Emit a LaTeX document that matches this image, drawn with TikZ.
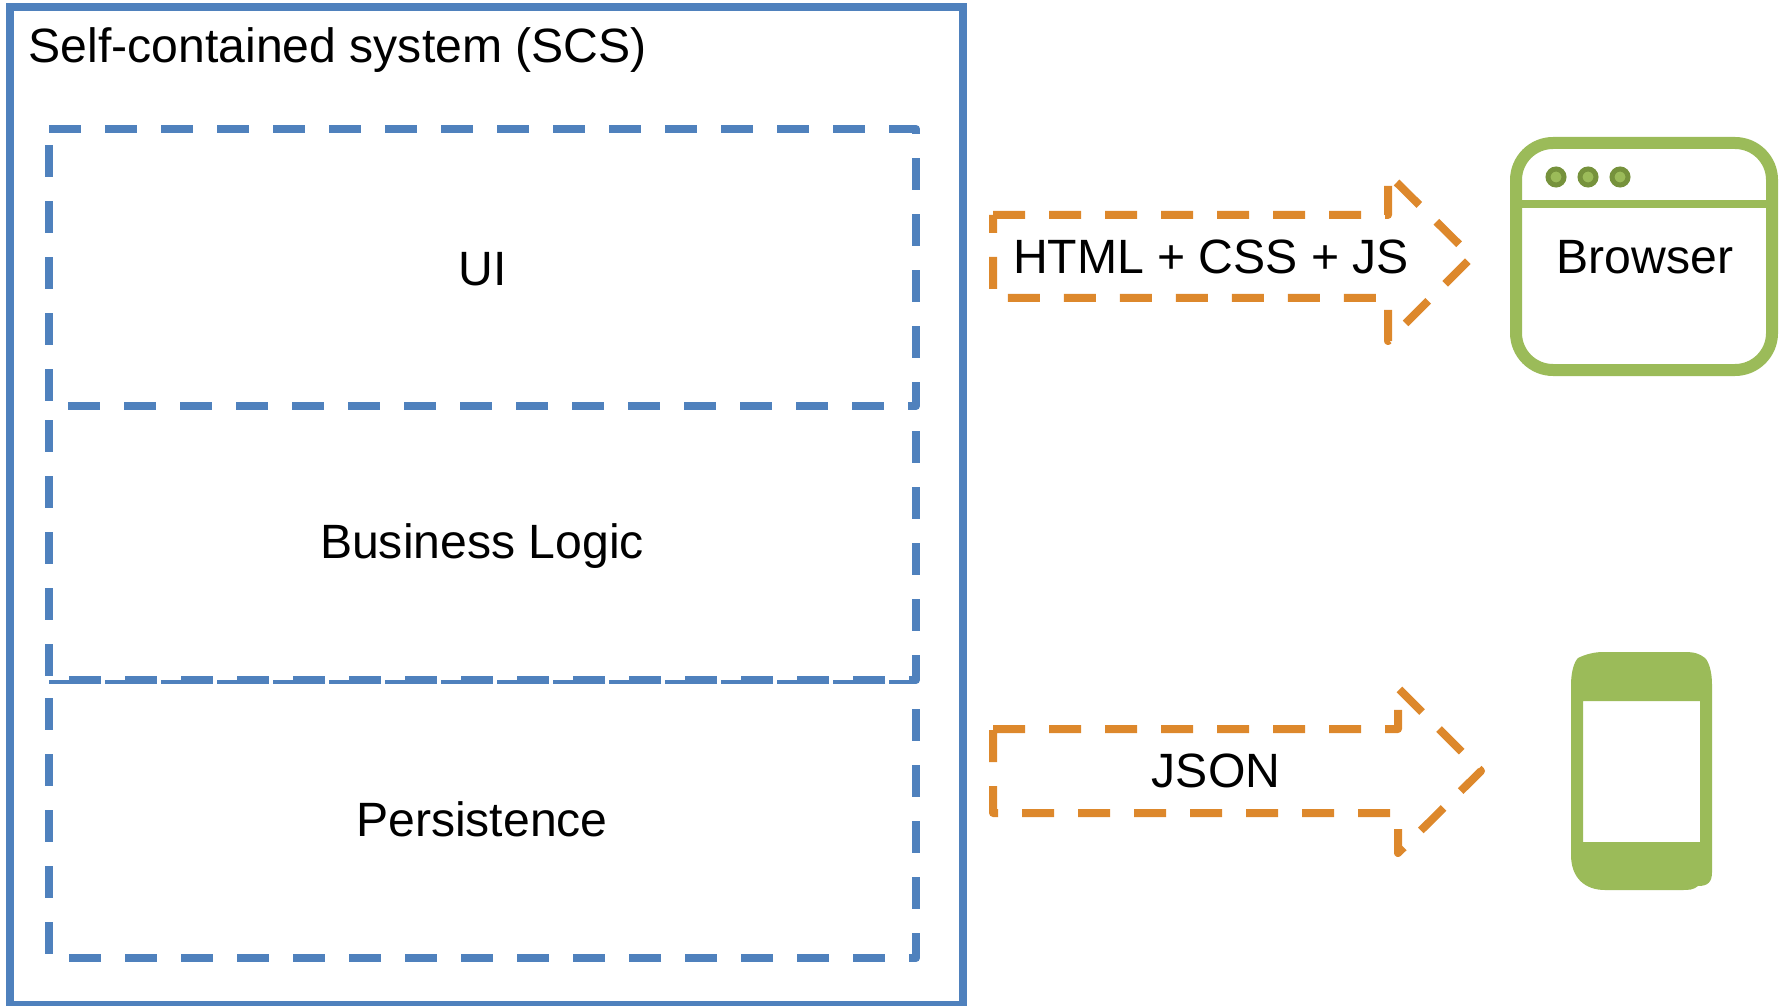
\documentclass[tikz,border=0pt]{standalone}
\usepackage{fontspec}
\setmainfont{Liberation Sans}
\definecolor{scsblue}{HTML}{4F81BD}
\definecolor{flowrange}{HTML}{DD882C}
\definecolor{devgreen}{HTML}{9BBB59}
\definecolor{dotgreen}{HTML}{76923C}
\tikzset{
  label/.style={inner sep=0pt,anchor=base,font=\fontsize{13.7}{16}\selectfont},
  layerbox/.style={draw=scsblue,line width=.08cm,line join=round,dash pattern=on .32cm off .24cm},
  flowbox/.style={draw=flowrange,line width=.08cm,line join=round,dash pattern=on .32cm off .24cm},
  browserdot/.style={circle,draw=dotgreen,fill=devgreen,line width=.05cm,minimum size=.16cm,inner sep=0pt}
}
\begin{document}
\begin{tikzpicture}
\useasboundingbox (0,0) rectangle (17.85,-10.05);
\draw[scsblue,line width=.08cm] (.1,-.07) -- (9.63,-.07) -- (9.63,-10.05) -- (.1,-10.05) -- cycle;
\node[label,anchor=base west] (title) at (.28,-.63) {Self-contained system (SCS)};
\draw[layerbox] (.49,-1.29) -- (9.16,-1.29) -- (9.16,-4.06) -- (.49,-4.06) -- cycle;
\draw[layerbox] (9.16,-4.31) -- (9.16,-6.8) -- (.49,-6.8) -- (.49,-4.2);
\draw[layerbox,line width=.04cm] (.49,-6.82) -- (9.16,-6.82);
\draw[layerbox] (9.16,-7.09) -- (9.16,-9.58) -- (.49,-9.58) -- (.49,-6.98);
\node[label] (ui) at (4.83,-2.85) {UI};
\node[label] (logic) at (4.82,-5.58) {Business Logic};
\node[label] (persistence) at (4.82,-8.36) {Persistence};
\draw[flowbox] (9.93,-2.15) -- (13.88,-2.15) -- (13.88,-1.74) -- (14.72,-2.57) -- (13.88,-3.41) -- (13.88,-2.98) -- (9.93,-2.98) -- cycle;
\node[label] (html) at (12.11,-2.74) {HTML + CSS + JS};
\draw[flowbox] (9.93,-7.29) -- (13.98,-7.29) -- (13.98,-6.88) -- (14.81,-7.71) -- (13.98,-8.53) -- (13.98,-8.13) -- (9.93,-8.13) -- cycle;
\node[label] (json) at (12.16,-7.87) {JSON};
\draw[devgreen,line width=.12cm,rounded corners=.37cm] (15.16,-1.43) rectangle (17.72,-3.7);
\draw[devgreen,line width=.08cm] (15.16,-2.04) -- (17.72,-2.04);
\foreach \n/\x in {a/15.56,b/15.88,c/16.2}
  \node[browserdot] (dot\n) at (\x,-1.77) {};
\node[label] (browser) at (16.45,-2.74) {Browser};
\fill[devgreen,even odd rule] (15.71,-6.85) .. controls (15.71,-6.72) and (15.74,-6.62) .. (15.78,-6.58)
  .. controls (15.86,-6.54) and (15.95,-6.52) .. (16.03,-6.52) -- (16.85,-6.52)
  .. controls (16.95,-6.52) and (17,-6.54) .. (17.05,-6.58) .. controls (17.09,-6.62) and (17.12,-6.72) .. (17.12,-6.85)
  -- (17.12,-8.72) .. controls (17.12,-8.82) and (17.08,-8.86) .. (16.98,-8.86) .. controls (16.93,-8.9) and (16.9,-8.9) .. (16.8,-8.9)
  -- (16.05,-8.9) .. controls (15.85,-8.9) and (15.71,-8.78) .. (15.71,-8.55) -- cycle
  (15.83,-7.01) rectangle (17,-8.42);
\end{tikzpicture}
\end{document}
